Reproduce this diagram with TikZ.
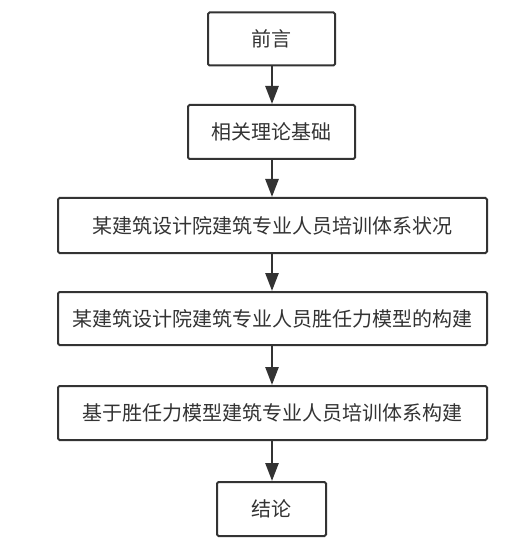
\documentclass[tikz,border=0pt]{standalone}
\usepackage{fontspec}
\newfontfamily\cjk{Noto Sans CJK SC}
\usetikzlibrary{arrows.meta}
\definecolor{ink}{HTML}{333333}
\tikzset{
  stepbox/.style={draw=ink, line width=2pt, rounded corners=1.5pt, fill=white, inner sep=0pt,
    font=\cjk\fontsize{20}{20}\selectfont, text=ink},
  flow/.style={draw=ink, line width=2.6pt, -{Triangle[length=18pt,width=13pt]}}
}
\begin{document}
\begin{tikzpicture}[x=1pt,y=-1pt]
\useasboundingbox (0,0) rectangle (521,545);
\node[stepbox, minimum width=127pt, minimum height=53pt] (n1) at (271.5,39) {前言};
\node[stepbox, minimum width=167pt, minimum height=54pt] (n2) at (271.5,132) {相关理论基础};
\node[stepbox, minimum width=429pt, minimum height=55pt] (n3) at (272.5,225.5) {某建筑设计院建筑专业人员培训体系状况};
\node[stepbox, minimum width=429pt, minimum height=53pt] (n4) at (272.5,318.5) {某建筑设计院建筑专业人员胜任力模型的构建};
\node[stepbox, minimum width=429pt, minimum height=54pt] (n5) at (272.5,413) {基于胜任力模型建筑专业人员培训体系构建};
\node[stepbox, minimum width=109pt, minimum height=54pt] (n6) at (271.5,509) {结论};
\draw[flow] (n1.south -| 272,0) -- (n2.north -| 272,0);
\draw[flow] (n2.south -| 272,0) -- (n3.north -| 272,0);
\draw[flow] (n3.south -| 272,0) -- (n4.north -| 272,0);
\draw[flow] (n4.south -| 272,0) -- (n5.north -| 272,0);
\draw[flow] (n5.south -| 272,0) -- (n6.north -| 272,0);
\end{tikzpicture}
\end{document}
